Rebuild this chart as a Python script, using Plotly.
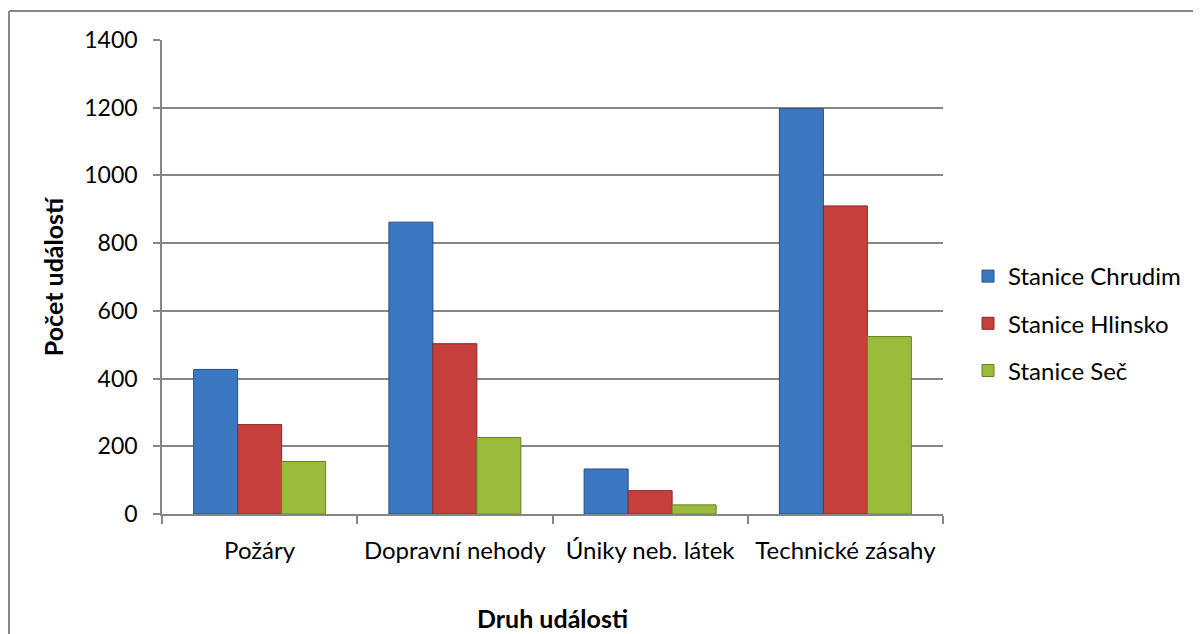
import plotly.graph_objects as go

categories = ["Požáry", "Dopravní nehody", "Úniky neb. látek", "Technické zásahy"]
series_names = ["Stanice Chrudim", "Stanice Hlinsko", "Stanice Seč"]
chrudim = [427, 862, 133, 1197]
hlinsko = [264, 503, 69, 910]
sec = [155, 226, 27, 524]
y_ticks = [0, 200, 400, 600, 800, 1000, 1200, 1400]

fill_colors = ["#3C77C2", "#C63F3C", "#9BBB3B"]
line_colors = ["#264F86", "#8A2826", "#66822A"]

FONT = "Lato"
OFF = 8  # page body margin
W, H = 1201, 634
ML, MT = 162 - OFF, 40 - OFF
PW, PH = 781, 474
MR, MB = W - ML - PW, H - MT - PH

def px_x(px):
    return (px - OFF - ML) / PW

def px_y(py):
    return (MT + PH - (py - OFF)) / PH

fig = go.Figure()
for name, vals, fc, lc in zip(series_names, [chrudim, hlinsko, sec], fill_colors, line_colors):
    fig.add_trace(go.Bar(
        x=categories, y=vals, name=name, legendgroup=name,
        marker=dict(color=fc, line=dict(color=lc, width=1)),
    ))

fig.update_layout(
    width=W, height=H,
    margin=dict(l=ML, r=MR, t=MT, b=MB),
    paper_bgcolor="white", plot_bgcolor="white",
    barmode="group", bargap=0.324, bargroupgap=0,
    font=dict(family=FONT, size=24, color="#000000"),
    legend=dict(x=px_x(968), y=px_y(254), xanchor="left", yanchor="top",
                font=dict(family=FONT, size=24), tracegroupgap=13,
                bgcolor="rgba(0,0,0,0)"),
    xaxis=dict(
        showline=True, linecolor="#868686", linewidth=1.5,
        ticks="outside", tickson="boundaries", ticklen=8, tickcolor="#868686", tickwidth=1.5,
        tickfont=dict(family=FONT, size=24), ticklabelstandoff=14,
        title=dict(text="<b>Druh události</b>", font=dict(family=FONT, size=25), standoff=48),
    ),
    yaxis=dict(
        range=[0, 1400], tickvals=y_ticks,
        showline=True, linecolor="#868686", linewidth=1.5,
        showgrid=True, gridcolor="#868686", gridwidth=1.5,
        ticks="outside", ticklen=7, tickcolor="#868686", tickwidth=1.5,
        tickfont=dict(family=FONT, size=23), ticklabelstandoff=11,
        title=dict(text="<b>Počet událostí</b>", font=dict(family=FONT, size=25), standoff=14),
        zeroline=False,
    ),
    shapes=[
        dict(type="line", xref="paper", yref="paper", x0=px_x(9), x1=px_x(1215),
             y0=px_y(11), y1=px_y(11), line=dict(color="#898989", width=2)),
        dict(type="line", xref="paper", yref="paper", x0=px_x(9), x1=px_x(9),
             y0=px_y(11), y1=px_y(650), line=dict(color="#898989", width=2)),
    ],
)

fig.write_html("out.html")
